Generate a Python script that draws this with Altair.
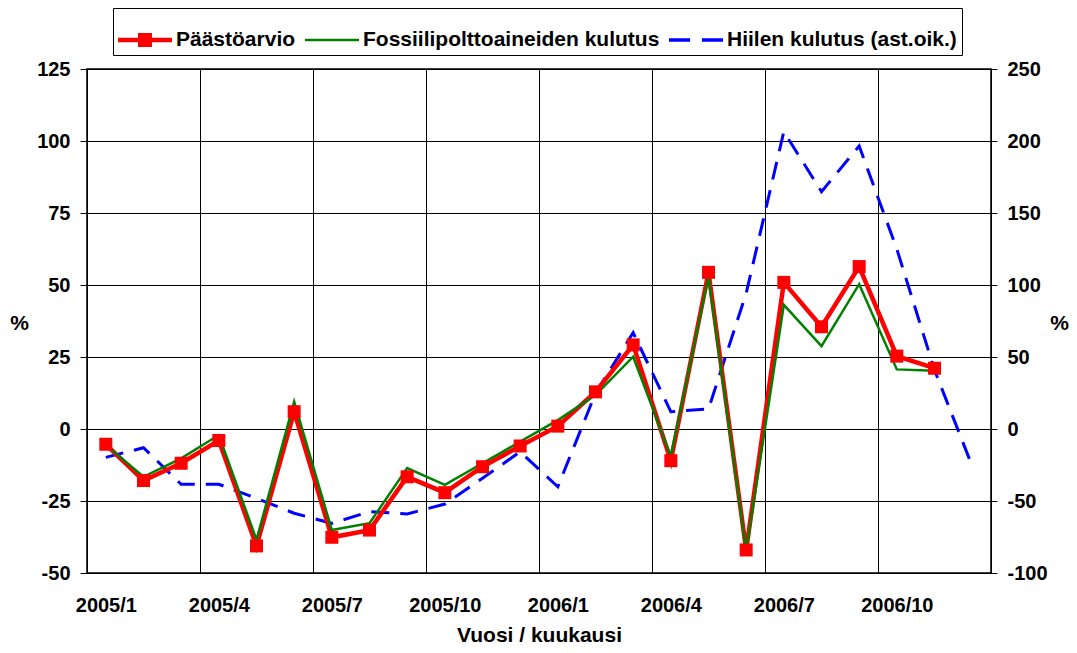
import altair as alt
import pandas as pd

months = ["2005/1", "2005/2", "2005/3", "2005/4", "2005/5", "2005/6", "2005/7", "2005/8",
          "2005/9", "2005/10", "2005/11", "2005/12", "2006/1", "2006/2", "2006/3", "2006/4",
          "2006/5", "2006/6", "2006/7", "2006/8", "2006/9", "2006/10", "2006/11", "2006/12"]
tick_labels = ["2005/1", "2005/4", "2005/7", "2005/10", "2006/1", "2006/4", "2006/7", "2006/10"]

series_names = ["Päästöarvio", "Fossiilipolttoaineiden kulutus", "Hiilen kulutus (ast.oik.)"]
series_colors = ["#ff0000", "#008000", "#0000ff"]

paasto = [-5.3, -17.9, -11.9, -4.0, -40.6, 6.0, -37.6, -35.1, -16.6, -22.1, -13.1, -5.9,
          1.0, 12.9, 29.2, -11.0, 54.4, -42.0, 50.9, 35.5, 56.4, 25.3, 21.1, None]
fossiili = [-5.5, -16.6, -10.2, -2.1, -38.5, 9.5, -35.1, -32.7, -13.6, -19.4, -11.9, -4.4,
            3.1, 11.8, 25.1, -9.5, 52.9, -42.5, 43.1, 28.8, 50.3, 20.7, 20.2, None]
hiili = [-19.7, -13.0, -38.4, -38.4, -48.1, -58.5, -65.5, -57.4, -59.0, -52.1, -34.2, -15.8,
         -40.1, 24.8, 66.9, 12.0, 13.9, 94.2, 206.5, 164.8, 196.5, 125.0, 41.0, -25.7]

left_ticks = [-50, -25, 0, 25, 50, 75, 100, 125]
right_ticks = [-100, -50, 0, 50, 100, 150, 200, 250]

# legend glyphs (unit coordinates, filled shapes)
legend_shapes = [
    "M-1,-0.083H1V0.083H-1Z M-0.26,-0.26H0.26V0.26H-0.26Z",
    "M-1,-0.05H1V0.05H-1Z",
    "M-1,-0.065H-0.22V0.065H-1Z M0.22,-0.065H1V0.065H0.22Z",
]

rows = []
for name, vals in zip(series_names, [paasto, fossiili, hiili]):
    for i, (m, v) in enumerate(zip(months, vals)):
        if v is not None:
            rows.append({"idx": i, "month": m, "series": name, "value": v})
df = pd.DataFrame(rows)

FONT = "Liberation Sans"
n = len(months)
boundaries = [i * 3 - 0.5 for i in range(len(tick_labels))]
label_expr = "[" + ",".join("'%s'" % t for t in tick_labels) + "][round((datum.value + 0.5) / 3)]"

x_enc = alt.X(
    "idx:Q",
    scale=alt.Scale(domain=[-0.5, n - 0.5], nice=False, zero=False),
    axis=alt.Axis(
        values=boundaries, labelExpr=label_expr, labelOffset=904 / n / 2,
        grid=True, ticks=False, tickSize=0, domain=False, labelFlush=False,
        labelOverlap=False, labelBound=False, labelPadding=32, labelBaseline="middle",
        title="Vuosi / kuukausi", titleY=62, titleBaseline="middle",
    ),
)

y_left = alt.Y(
    "value:Q",
    scale=alt.Scale(domain=[-50, 125], nice=False, zero=False),
    axis=alt.Axis(
        values=left_ticks, orient="left", grid=True, tickSize=7, labelPadding=10,
        labelExpr="datum.value + ''",
        title="%", titleAngle=0, titleX=-68, titleY=254, titleAlign="center",
        titleBaseline="middle",
    ),
)
y_right = alt.Y(
    "value:Q",
    scale=alt.Scale(domain=[-100, 250], nice=False, zero=False),
    axis=alt.Axis(
        values=right_ticks, orient="right", grid=False, tickSize=6, labelPadding=10,
        labelExpr="datum.value + ''",
        title="%", titleAngle=0, titleX=68, titleY=254, titleAlign="center",
        titleBaseline="middle",
    ),
)

p, f, h = series_names

legend = alt.Legend(
    orient="none", legendX=26, legendY=-61, direction="horizontal", title=None,
    symbolSize=2916, labelFont=FONT, labelFontSize=21, labelLimit=1000,
    labelFontWeight="bold", labelColor="black", labelOffset=4, columnPadding=9,
    padding=5, strokeColor="black", fillColor="white", cornerRadius=0,
    symbolStrokeWidth=0, symbolOpacity=1,
)

base = alt.Chart(df)
blue = base.transform_filter(alt.datum.series == h).mark_line(
    strokeWidth=3, strokeDash=[18, 11], color=series_colors[2]).encode(x=x_enc, y=y_right)
red_line = base.transform_filter(alt.datum.series == p).mark_line(
    strokeWidth=4.5, color=series_colors[0]).encode(x=x_enc, y=y_left)
green_line = base.transform_filter(alt.datum.series == f).mark_line(
    strokeWidth=2.5, color=series_colors[1]).encode(x=x_enc, y=y_left)
red_pts = base.transform_filter(alt.datum.series == p).mark_point(
    shape="square", filled=True, size=169, opacity=1, color=series_colors[0]).encode(x=x_enc, y=y_left)
legend_layer = base.transform_filter("false").mark_point(filled=True, opacity=1).encode(
    x=x_enc, y=y_left,
    color=alt.Color("series:N", scale=alt.Scale(domain=series_names, range=series_colors), legend=legend),
    shape=alt.Shape("series:N", scale=alt.Scale(domain=series_names, range=legend_shapes), legend=legend),
)

left_layer = alt.layer(red_line, green_line, red_pts, legend_layer)

chart = alt.layer(blue, left_layer).resolve_scale(y="independent").properties(
    width=904, height=504,
    padding={"left": 79, "top": 61, "right": 78, "bottom": 72},
    autosize=alt.AutoSizeParams(type="none"),
).configure_view(stroke="black", strokeWidth=1.5).configure_axis(
    labelFont=FONT, labelFontSize=20, labelFontWeight="bold", labelColor="black",
    titleFont=FONT, titleFontSize=21, titleFontWeight="bold", titleColor="black",
    domainColor="black", tickColor="black", gridColor="black", gridOpacity=1, gridWidth=1,
)

chart.save("out.html", embed_options={"renderer": "svg", "actions": False})
